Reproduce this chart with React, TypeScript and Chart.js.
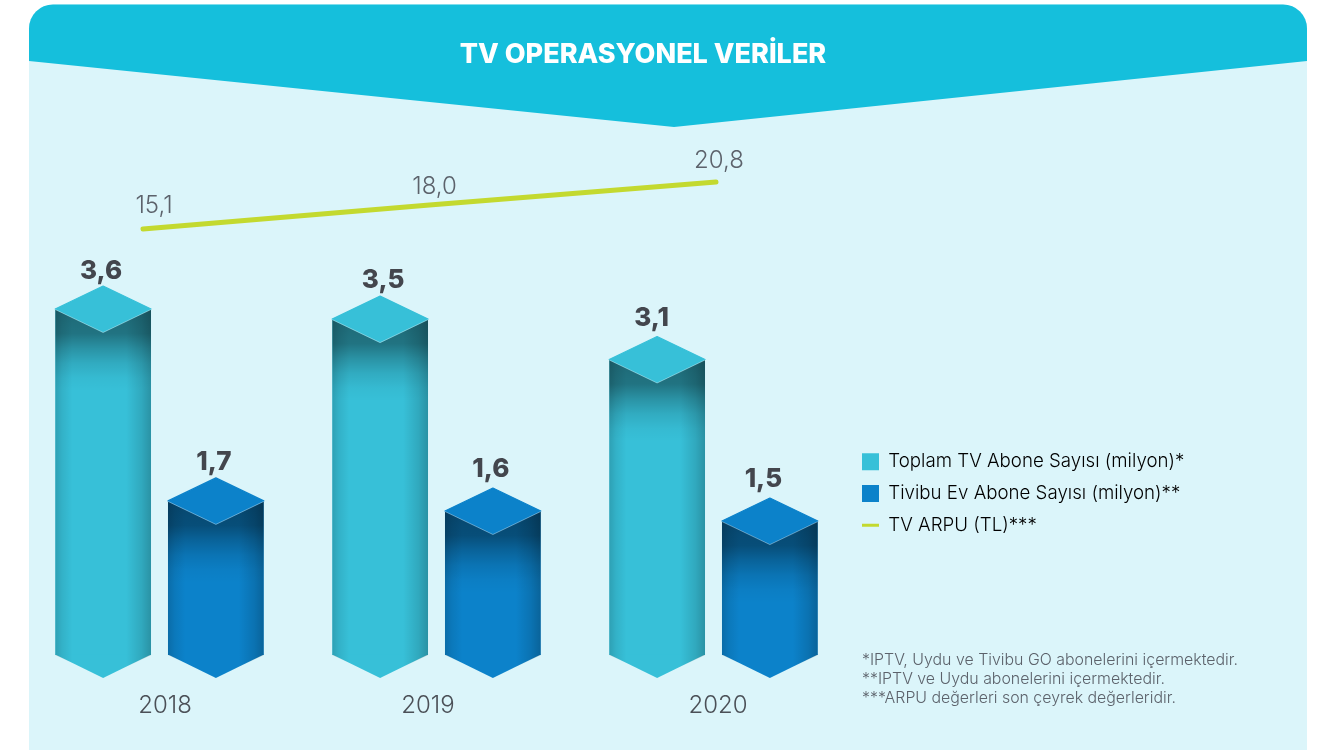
import React, { useEffect, useRef } from "react";
import { Chart, registerables, BarController } from "chart.js";

Chart.register(...registerables);

// Bars and the ARPU line sit on different value axes; the bars must still share one group.
(BarController.prototype as any)._getAxisCount = () => 1;

const titleText = "TV OPERASYONEL VERİLER";
const years = ["2018", "2019", "2020"];
const totalSubscribers = [3.6, 3.5, 3.1];
const tivibuSubscribers = [1.7, 1.6, 1.5];
const arpuValues = [15.1, 18.0, 20.8];
const arpuSlots = [0, 1, 2];
const seriesNames = [
  "Toplam TV Abone Sayısı (milyon)*",
  "Tivibu Ev Abone Sayısı (milyon)**",
  "TV ARPU (TL)***",
];
const footnotes = [
  "*IPTV, Uydu ve Tivibu GO abonelerini içermektedir.",
  "**IPTV ve Uydu abonelerini içermektedir.",
  "***ARPU değerleri son çeyrek değerleridir.",
];

const CYAN = "#37C0D8";
const BLUE = "#0C82CA";
const LIME = "#C3D92F";
const HEADER = "#15BFDC";
const PANEL = "#DBF5FA";
const FONT = "Inter, sans-serif";
const TEXT = "#5C626B";

const yearNudges = [5.5, -8.5, 4.5];
const arpuLabelOffsets = [
  [11, -23],
  [5, -18.5],
  [3, -21],
];
const valueLabelNudges = [
  [[0, 1], [5, 0], [-3.5, -2]],
  [[0, 0], [0, -3], [-4.5, -3]],
];
const CAP_H = 23;

const fmt = (v: number) => v.toFixed(1).replace(".", ",");

const pagePlugin = {
  id: "page",
  afterLayout(chart: any) {
    const t = chart.titleBlock;
    t.left = 443;
    t.right = 843;
    const l = chart.legend;
    const pad = l.options.labels.padding;
    l.left = 862 - pad;
    l.right = 1310;
    l.width = l.right - l.left;
    l.top = 452.5 - pad;
    l.bottom = 560;
    l.height = l.bottom - l.top;
  },
  beforeDraw(chart: any) {
    const c = chart.ctx;
    c.save();
    c.fillStyle = "#FFFFFF";
    c.fillRect(0, 0, 1322, 750);
    c.beginPath();
    c.roundRect(29, 4.5, 1278, 760, [24, 24, 0, 0]);
    c.fillStyle = PANEL;
    c.fill();
    c.clip();
    c.beginPath();
    c.moveTo(29, 0);
    c.lineTo(1307, 0);
    c.lineTo(1307, 61);
    c.lineTo(674, 127);
    c.lineTo(29, 61);
    c.closePath();
    c.fillStyle = HEADER;
    c.fill();
    c.restore();
  },
  afterDatasetsDraw(chart: any) {
    const c = chart.ctx;
    const bottom = chart.chartArea.bottom;
    [0, 1].forEach((di) => {
      const color = di === 0 ? CYAN : BLUE;
      const values = di === 0 ? totalSubscribers : tivibuSubscribers;
      chart.getDatasetMeta(di).data.forEach((el: any, i: number) => {
        const cx = el.x;
        const w = el.width / 2;
        const top = el.y;
        const L = cx - w;
        const R = cx + w;
        c.save();
        // pointed foot
        c.beginPath();
        c.moveTo(L, bottom - 0.5);
        c.lineTo(R, bottom - 0.5);
        c.lineTo(cx, bottom + CAP_H);
        c.closePath();
        c.fillStyle = color;
        c.fill();
        // whole body outline for shading
        c.save();
        c.beginPath();
        c.moveTo(L, top);
        c.lineTo(cx, top + CAP_H);
        c.lineTo(R, top);
        c.lineTo(R, bottom);
        c.lineTo(cx, bottom + CAP_H);
        c.lineTo(L, bottom);
        c.closePath();
        c.clip();
        const side = c.createLinearGradient(L, 0, R, 0);
        side.addColorStop(0, "rgba(0,0,0,0.17)");
        side.addColorStop(0.07, "rgba(0,0,0,0.08)");
        side.addColorStop(0.18, "rgba(0,0,0,0)");
        side.addColorStop(0.74, "rgba(0,0,0,0)");
        side.addColorStop(0.9, "rgba(0,0,0,0.12)");
        side.addColorStop(1, "rgba(0,0,0,0.24)");
        c.fillStyle = side;
        c.fillRect(L, top, 2 * w, bottom + CAP_H - top);
        const shadeH = 82;
        const shade = c.createLinearGradient(0, top, 0, top + shadeH);
        shade.addColorStop(0, "rgba(0,0,0,0.46)");
        shade.addColorStop(0.3, "rgba(0,0,0,0.40)");
        shade.addColorStop(0.48, "rgba(0,0,0,0.24)");
        shade.addColorStop(0.66, "rgba(0,0,0,0.11)");
        shade.addColorStop(0.84, "rgba(0,0,0,0.03)");
        shade.addColorStop(1, "rgba(0,0,0,0)");
        c.fillStyle = shade;
        c.fillRect(L, top, 2 * w, shadeH);
        c.restore();
        // cap
        c.beginPath();
        c.moveTo(L, top);
        c.lineTo(cx, top - CAP_H);
        c.lineTo(R, top);
        c.lineTo(cx, top + CAP_H);
        c.closePath();
        c.fillStyle = color;
        c.strokeStyle = color;
        c.lineJoin = "round";
        c.lineWidth = 1.2;
        c.fill();
        c.stroke();
        c.beginPath();
        c.moveTo(L, top + 0.5);
        c.lineTo(cx, top + CAP_H + 0.5);
        c.lineTo(R, top + 0.5);
        c.strokeStyle = "rgba(255,255,255,0.45)";
        c.lineWidth = 0.8;
        c.stroke();
        // value label
        const [nx, ny] = valueLabelNudges[di][i];
        c.font = `800 26px ${FONT}`;
        c.fillStyle = "#43464D";
        c.textAlign = "center";
        c.textBaseline = "middle";
        c.fillText(fmt(values[i]), cx - 2 + nx, top - 39 + ny);
        c.restore();
      });
    });
    // ARPU labels
    c.save();
    c.font = `300 24px ${FONT}`;
    c.fillStyle = TEXT;
    c.textAlign = "center";
    c.textBaseline = "middle";
    chart.getDatasetMeta(2).data.forEach((p: any, i: number) => {
      const [dx, dy] = arpuLabelOffsets[i];
      c.fillText(fmt(arpuValues[i]), p.x + dx, p.y + dy);
    });
    // footnotes
    c.font = `300 15.9px ${FONT}`;
    c.textAlign = "left";
    footnotes.forEach((f, i) => c.fillText(f, 862, 660 + i * 19));
    c.restore();
  },
};

export default function App() {
  const ref = useRef<HTMLCanvasElement>(null);
  useEffect(() => {
    const chart = new Chart(ref.current as HTMLCanvasElement, {
      type: "bar",
      plugins: [pagePlugin],
      data: {
        labels: years,
        datasets: [
          {
            label: seriesNames[0],
            data: totalSubscribers,
            backgroundColor: CYAN,
            borderWidth: 0,
            categoryPercentage: 0.8576,
            barPercentage: 0.8496,
            yAxisID: "y",
            xAxisID: "x",
          },
          {
            label: seriesNames[1],
            data: tivibuSubscribers,
            backgroundColor: BLUE,
            borderWidth: 0,
            categoryPercentage: 0.8576,
            barPercentage: 0.8496,
            yAxisID: "y",
            xAxisID: "x",
          },
          {
            type: "line",
            label: seriesNames[2],
            data: arpuSlots.map((s, i) => ({ x: s, y: arpuValues[i] })),
            borderColor: LIME,
            backgroundColor: LIME,
            borderWidth: 5,
            borderCapStyle: "round",
            pointRadius: 0,
            tension: 0,
            fill: false,
            clip: false,
            yAxisID: "yArpu",
            xAxisID: "xArpu",
          },
        ] as any,
      },
      options: {
        responsive: false,
        animation: false,
        events: [],
        layout: { padding: { left: 21, right: 470, top: 0, bottom: 0 } },
        scales: {
          x: {
            type: "category",
            grid: { display: false, drawTicks: false },
            border: { display: false },
            afterFit: (s: any) => {
              s.height = 95;
            },
            afterUpdate: (s: any) => {
              if (s.__nudged) return;
              s.__nudged = true;
              const orig = s.getPixelForTick.bind(s);
              s.getPixelForTick = (i: number) => orig(i) + yearNudges[i];
            },
            ticks: {
              padding: 36,
              autoSkip: false,
              maxRotation: 0,
              color: "#4B5057",
              font: { family: FONT, size: 24, weight: "300" },
            },
          },
          xArpu: {
            type: "linear",
            display: false,
            offset: false,
            min: -0.4258,
            max: 2.4747,
          },
          y: { type: "linear", display: false, min: 0.174, max: 5.412 },
          yArpu: { type: "linear", display: false, min: -36.56, max: 27.59 },
        } as any,
        plugins: {
          tooltip: { enabled: false },
          title: {
            display: true,
            text: titleText,
            color: "#FFFFFF",
            font: { family: FONT, size: 27, weight: "800", lineHeight: 1.2 },
            padding: { top: 38.5, bottom: 55.1 },
          },
          legend: {
            display: true,
            position: "chartArea",
            align: "start",
            labels: {
              usePointStyle: true,
              pointStyleWidth: 17,
              boxHeight: 17,
              boxWidth: 17,
              padding: 13,
              color: TEXT,
              font: { family: FONT, size: 18.7, weight: "300", lineHeight: 1.2 },
              generateLabels: (ch: any) =>
                ch.data.datasets.map((d: any, i: number) => ({
                  text: d.label,
                  fillStyle: d.backgroundColor,
                  strokeStyle: d.backgroundColor,
                  lineWidth: i === 2 ? 3 : 0,
                  pointStyle: i === 2 ? "line" : "rect",
                  datasetIndex: i,
                  hidden: false,
                })),
            },
          },
        } as any,
      },
    });
    return () => chart.destroy();
  }, []);
  return (
    <div style={{ position: "fixed", left: 0, top: 0, width: 1322, height: 750, overflow: "hidden", background: "#fff" }}>
      <canvas ref={ref} width={1322} height={750} style={{ display: "block" }} />
    </div>
  );
}
